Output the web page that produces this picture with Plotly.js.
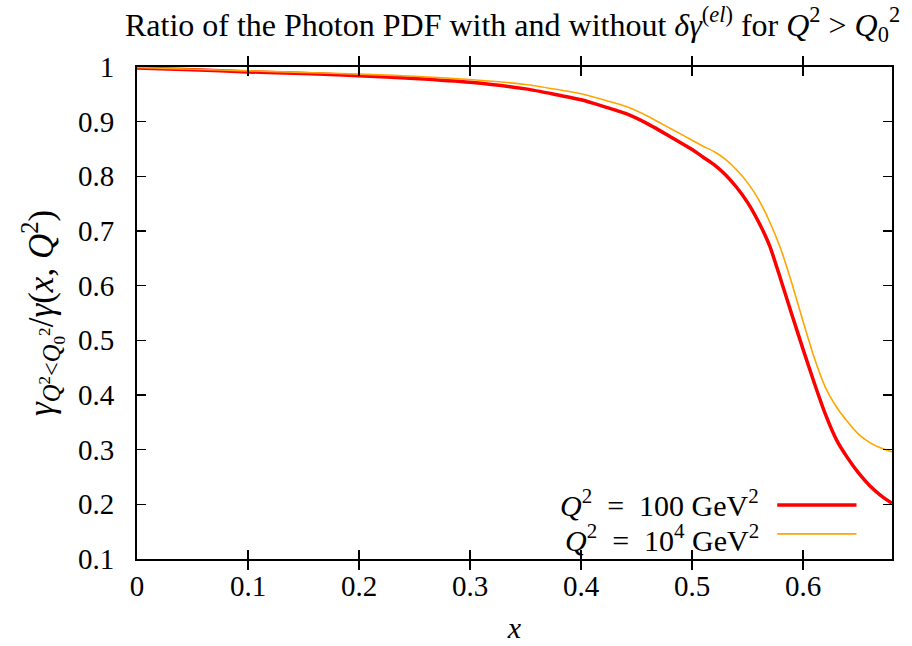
<!DOCTYPE html>
<html>
<head>
<meta charset="utf-8">
<script src="https://cdn.plot.ly/plotly-3.0.1.min.js"></script>
<style>html,body{margin:0;padding:0;background:#fff;}#chart{width:912px;height:646px;}</style>
</head>
<body>
<div id="chart"></div>
<script>
const xValues = [0, 0.05, 0.1, 0.15, 0.2, 0.25, 0.3, 0.35, 0.4, 0.42, 0.44, 0.46, 0.48, 0.5, 0.51, 0.52, 0.53, 0.54, 0.55, 0.56, 0.57, 0.58, 0.59, 0.60, 0.61, 0.62, 0.63, 0.64, 0.65, 0.66, 0.67, 0.68];
const ratioQ100 = [0.998, 0.995, 0.991, 0.988, 0.984, 0.979, 0.972, 0.960, 0.940, 0.928, 0.915, 0.896, 0.873, 0.849, 0.835, 0.821, 0.803, 0.780, 0.752, 0.716, 0.672, 0.610, 0.546, 0.483, 0.422, 0.365, 0.318, 0.285, 0.257, 0.234, 0.216, 0.202];
const ratioQ1e4 = [0.999, 0.996, 0.993, 0.990, 0.987, 0.983, 0.977, 0.968, 0.951, 0.940, 0.928, 0.910, 0.888, 0.866, 0.855, 0.845, 0.831, 0.812, 0.788, 0.757, 0.716, 0.666, 0.603, 0.534, 0.468, 0.414, 0.378, 0.351, 0.328, 0.313, 0.303, 0.296];
const seriesNames = ['<i>Q</i><sup>2</sup> <span> </span>=<span> </span> 100 GeV<sup>2</sup>', '<i>Q</i><sup>2</sup> <span> </span>=<span> </span> 10<sup>4</sup> GeV<sup>2</sup>'];
const seriesColors = ['#ff0000', '#ffa500'];
const xTicks = [0, 0.1, 0.2, 0.3, 0.4, 0.5, 0.6];
const yTicks = [0.1, 0.2, 0.3, 0.4, 0.5, 0.6, 0.7, 0.8, 0.9, 1];
const yTickText = ['0.1', '0.2', '0.3', '0.4', '0.5', '0.6', '0.7', '0.8', '0.9', '1'];

const FONT = '"Liberation Serif", "Times New Roman", serif';

const traces = [
  {x: xValues, y: ratioQ1e4, yaxis: 'y2', mode: 'lines', name: seriesNames[1], line: {color: seriesColors[1], width: 1.6, shape: 'spline', smoothing: 0.5}, showlegend: false},
  {x: xValues, y: ratioQ100, mode: 'lines', name: seriesNames[0], line: {color: seriesColors[0], width: 3.5, shape: 'spline', smoothing: 0.5}, showlegend: false}
];

const axisCommon = {
  showgrid: false, zeroline: false, showline: true, linecolor: '#000', linewidth: 2,
  mirror: 'allticks', ticks: 'inside', ticklen: 9, tickwidth: 1.5, tickcolor: '#000',
  tickfont: {family: FONT, size: 29, color: '#000'}
};

const layout = {
  width: 912, height: 646,
  margin: {l: 137, r: 20, t: 67, b: 87},
  paper_bgcolor: '#fff', plot_bgcolor: '#fff',
  title: {
    text: 'Ratio of the Photon PDF with and without <i>δγ</i><sup>(<i>el</i>)</sup> for <i>Q</i><sup>2</sup> > <i>Q</i><sub>0</sub><sup>2</sup>',
    font: {family: FONT, size: 32, color: '#000'},
    x: 0.562, xanchor: 'center', y: 0.962, yanchor: 'middle'
  },
  xaxis: Object.assign({}, axisCommon, {
    range: [0, 0.68], tickvals: xTicks, ticktext: xTicks.map(String),
    title: {text: '<i>x</i>', font: {family: FONT, size: 30, color: '#000'}, standoff: 16}
  }),
  yaxis: Object.assign({}, axisCommon, {
    range: [0.1, 1], tickvals: yTicks, ticktext: yTickText,
    ticks: 'outside', ticklen: 15, tickcolor: 'rgba(0,0,0,0)',
    title: {text: '<i>γ</i><sub><i>Q</i><sup>2</sup>&lt;<i>Q</i><sub>0</sub><sup>2</sup></sub>/<i>γ</i>(<i>x</i>, <i>Q</i><sup>2</sup>)', font: {family: FONT, size: 35, color: '#000'}, standoff: 14}
  }),
  yaxis2: Object.assign({}, axisCommon, {
    range: [0.1, 1], tickvals: yTicks, overlaying: 'y', side: 'left', showticklabels: false
  }),
  shapes: [
    {type: 'line', xref: 'paper', yref: 'paper', x0: 0.848, x1: 0.953, y0: 0.110, y1: 0.110, line: {color: seriesColors[0], width: 3.5}},
    {type: 'line', xref: 'paper', yref: 'paper', x0: 0.848, x1: 0.953, y0: 0.051, y1: 0.051, line: {color: seriesColors[1], width: 1.6}}
  ],
  annotations: [
    {xref: 'paper', yref: 'paper', x: 0.826, y: 0.114, xanchor: 'right', yanchor: 'middle', text: seriesNames[0], showarrow: false, font: {family: FONT, size: 30, color: '#000'}},
    {xref: 'paper', yref: 'paper', x: 0.826, y: 0.043, xanchor: 'right', yanchor: 'middle', text: seriesNames[1], showarrow: false, font: {family: FONT, size: 30, color: '#000'}}
  ]
};

Plotly.newPlot('chart', traces, layout, {displayModeBar: false, staticPlot: true});
</script>
</body>
</html>
